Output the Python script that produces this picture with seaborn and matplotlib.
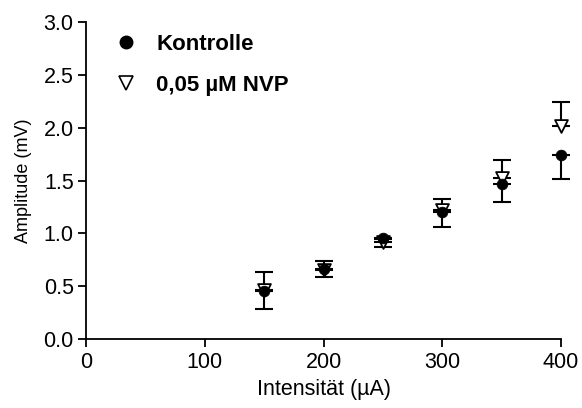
import numpy as np
import pandas as pd
import matplotlib
matplotlib.use("Agg")
import matplotlib.pyplot as plt
import seaborn as sns
from matplotlib.lines import Line2D

intensity = [150, 200, 250, 300, 350, 400]
kontrolle = [0.45, 0.66, 0.96, 1.20, 1.47, 1.74]
kontrolle_err = [0.17, 0.07, 0.09, 0.14, 0.17, 0.23]
nvp = [0.46, 0.65, 0.92, 1.22, 1.52, 2.02]
nvp_err = [0.17, 0.09, 0.03, 0.11, 0.17, 0.22]
labels = ["Kontrolle", "0,05 µM NVP"]

sns.set_style("ticks")
plt.rcParams["font.family"] = ["Liberation Sans", "DejaVu Sans"]
plt.rcParams["text.color"] = "black"
plt.rcParams["axes.labelcolor"] = "black"

fig = plt.figure(figsize=(5.82, 4.08), dpi=100)
ax = fig.add_axes([0.148, 0.169, 0.816, 0.777])

df = pd.DataFrame({
    "x": intensity * 2,
    "y": kontrolle + nvp,
    "group": [labels[0]] * 6 + [labels[1]] * 6,
})

# error bars: Kontrolle downward, NVP upward
eb1 = ax.errorbar(intensity, nvp, yerr=[np.zeros(6), nvp_err], fmt="none",
                  ecolor="black", elinewidth=1.5, capsize=6.3, capthick=1.5, zorder=1)
eb2 = ax.errorbar(intensity, kontrolle, yerr=[kontrolle_err, np.zeros(6)], fmt="none",
                  ecolor="black", elinewidth=1.5, capsize=6.3, capthick=1.5, zorder=1)
for eb in (eb1, eb2):
    for art in eb.lines[1] + eb.lines[2]:
        art.set_clip_on(False)

sns.scatterplot(data=df[df.group == labels[1]], x="x", y="y", marker="v",
                s=85, color="white", edgecolor="black", linewidth=1.3,
                ax=ax, zorder=2, legend=False, clip_on=False)
sns.scatterplot(data=df[df.group == labels[0]], x="x", y="y", marker="o",
                s=60, color="black", edgecolor="black", linewidth=0.5,
                ax=ax, zorder=3, legend=False, clip_on=False)

ax.set_xlim(0, 400)
ax.set_ylim(0, 3.0)
ax.set_xticks([0, 100, 200, 300, 400])
ax.set_yticks([0, 0.5, 1.0, 1.5, 2.0, 2.5, 3.0])
ax.set_yticklabels(["0.0", "0.5", "1.0", "1.5", "2.0", "2.5", "3.0"])
ax.tick_params(axis="both", direction="out", length=6, width=1.3,
               labelsize=15.5, color="black", labelcolor="black", pad=3)
for sp in ["left", "bottom"]:
    ax.spines[sp].set_linewidth(1.3)
    ax.spines[sp].set_color("black")
sns.despine(ax=ax)
ax.set_xlabel("Intensität (µA)", fontsize=15.5, labelpad=5, color="black")
ax.set_ylabel("Amplitude (mV)", fontsize=13, labelpad=8, color="black")

handles = [
    Line2D([], [], marker="o", color="black", linestyle="none", markersize=9),
    Line2D([], [], marker="v", markerfacecolor="white", markeredgecolor="black",
           markeredgewidth=1.2, linestyle="none", markersize=9.5),
]
leg = ax.legend(handles, labels, loc="upper left", bbox_to_anchor=(0.061, 0.962),
                frameon=False, prop={"weight": "bold", "size": 16},
                handletextpad=0.85, labelspacing=0.9, handlelength=1.0,
                borderaxespad=0, borderpad=0)

fig.savefig("out.png", dpi=100)
